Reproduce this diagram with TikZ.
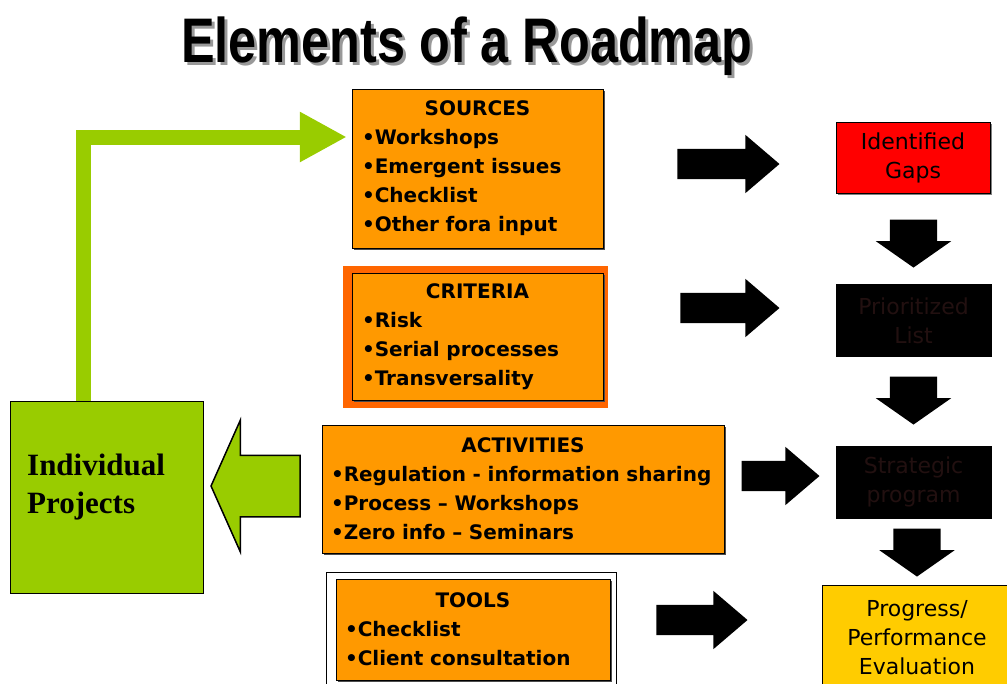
\documentclass[tikz,border=0pt]{standalone}
\usepackage{fontspec}
\setmainfont{DejaVu Sans}
\newfontfamily\titlefont{Liberation Sans}
\newfontfamily\projfont{Liberation Serif}
\usetikzlibrary{shapes.arrows,arrows.meta,calc,backgrounds,shadows}

\definecolor{boxorange}{HTML}{FF9900}
\definecolor{frameorange}{HTML}{FF6600}
\definecolor{gapred}{HTML}{FF0000}
\definecolor{evalyellow}{HTML}{FFCC00}
\definecolor{projgreen}{HTML}{99CC00}
\definecolor{darktext}{HTML}{221010}

\tikzset{
  itembox/.style={draw=black, thin, fill=boxorange, inner xsep=10pt, inner ysep=0pt, align=left,
    font=\fontsize{20}{29}\selectfont\bfseries,
    drop shadow={shadow xshift=2pt, shadow yshift=-2pt, fill=black!70, opacity=1}},
  stagebox/.style={draw=black, thin, minimum width=155pt, minimum height=72pt, align=center,
    font=\fontsize{22}{29}\selectfont},
  blockarrow/.style={single arrow, fill=black, inner xsep=0pt, text height=0pt, text depth=0pt, anchor=tip},
  rightarr/.style={blockarrow, inner ysep=15pt, single arrow head extend=14pt, single arrow tip angle=81},
  downarr/.style={blockarrow, rotate=-90, inner ysep=23.5pt, single arrow head extend=14pt,
    single arrow tip angle=110, minimum height=48pt},
}

\begin{document}
\begin{tikzpicture}[x=1pt, y=-1pt]
  \useasboundingbox (0,0) rectangle (1007,683);

  % title with its shadow
  \node[anchor=base, text=black!40, font=\titlefont\fontsize{63}{63}\selectfont\bfseries] (titleshade) at (470,65) {\scalebox{0.8}[1]{Elements of a Roadmap}};
  \node[anchor=base, font=\titlefont\fontsize{63}{63}\selectfont\bfseries] (title) at (467,62) {\scalebox{0.8}[1]{Elements of a Roadmap}};

  % middle column
  \node[itembox, text width=231pt, minimum height=159pt] (sources) at (477.5,168.5)
    {\makebox[231pt]{SOURCES}\\•Workshops\\•Emergent issues\\•Checklist\\•Other fora input};
  \node[itembox, text width=231pt, minimum height=127pt] (criteria) at (477.5,336.5)
    {\makebox[231pt]{CRITERIA}\\•Risk\\•Serial processes\\•Transversality};
  \node[itembox, inner xsep=9pt, text width=384pt, minimum height=128pt] (activities) at (523,489)
    {\makebox[384pt]{ACTIVITIES}\\•Regulation - information sharing\\•Process – Workshops\\•Zero info – Seminars};
  \node[itembox, inner xsep=9pt, text width=256pt, minimum height=101pt] (tools) at (473,629.5)
    {\makebox[256pt]{TOOLS}\\•Checklist\\•Client consultation};

  \begin{scope}[on background layer]
    \fill[frameorange] ([shift={(-9pt,7pt)}]criteria.north west) rectangle ([shift={(5pt,-8pt)}]criteria.south east);
    \draw[thin, fill=white] ([shift={(-10pt,7pt)}]tools.north west) rectangle ([shift={(6pt,-15pt)}]tools.south east);
  \end{scope}

  % left box
  \node[draw=black, thin, fill=projgreen, minimum width=193pt, minimum height=192pt] (proj) at (106.5,497) {};
  \node[anchor=north west, inner sep=0pt, align=left, font=\projfont\fontsize{31}{38}\selectfont\bfseries] (projlabel) at (27,454) {Individual\\Projects};

  % right column
  \node[stagebox, fill=gapred, minimum width=154pt, minimum height=71pt,
    drop shadow={shadow xshift=2pt, shadow yshift=-2pt, fill=black!50, opacity=1}] (gaps) at (913,157.5) {Identified\\Gaps};
  \node[stagebox, fill=black, text=darktext] (prio) at (913.5,320.5) {Prioritized\\List};
  \node[stagebox, fill=black, text=darktext] (strat) at (913.5,482) {Strategic\\program};
  \node[stagebox, fill=evalyellow, minimum width=190pt, minimum height=105pt] (prog) at (917,637.5) {Progress/\\Performance\\Evaluation};

  % block arrows
  \node[rightarr, minimum height=102pt] (r1) at ([xshift=-56pt]gaps.west |- 0,164) {};
  \node[rightarr, minimum height=99pt] (r2) at ([xshift=-56pt]prio.west |- 0,308) {};
  \node[rightarr, minimum height=78pt] (r3) at ([xshift=-16pt]strat.west |- 0,476) {};
  \node[rightarr, minimum height=91pt] (r4) at ([xshift=-74pt]prog.west |- 0,620) {};

  \node[downarr] (d1) at ([yshift=16.5pt]prio.north) {};
  \node[downarr] (d2) at ([yshift=21pt]strat.north) {};
  \node[downarr] (d3) at ([yshift=8pt]prog.north) {};

  \node[blockarrow, rotate=180, fill=projgreen, draw=black, line width=1.5pt, inner ysep=30pt,
    single arrow head extend=35pt, single arrow tip angle=132, minimum height=89pt] (back) at ([xshift=7pt]proj.east |- 0,486) {};

  \draw[projgreen, line width=15pt, -{Triangle[length=47pt, width=47pt]}]
    ([xshift=-23.5pt]proj.north) |- ([xshift=-5pt, yshift=31.5pt]sources.west);
\end{tikzpicture}
\end{document}
